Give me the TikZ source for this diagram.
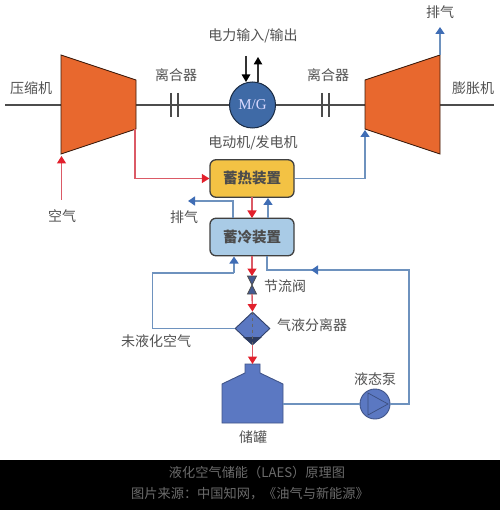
\documentclass[tikz,border=0pt]{standalone}
\usepackage{fontspec}
\setmainfont{Noto Sans CJK SC}
\newfontfamily\mgfont{Liberation Serif}
\usetikzlibrary{arrows.meta,shapes.geometric,calc}
\definecolor{lineblue}{HTML}{6E92BE}
\definecolor{tipblue}{HTML}{3F6DB5}
\definecolor{linered}{HTML}{DB5A66}
\definecolor{tipred}{HTML}{E2202C}
\definecolor{orangefill}{HTML}{E8682E}
\definecolor{tankblue}{HTML}{5B78C2}
\definecolor{mgblue}{HTML}{3F6AA6}
\definecolor{hotfill}{HTML}{F3C244}
\definecolor{coldfill}{HTML}{A9CBE6}
\tikzset{
  x=1pt,y=-1pt,
  lbl/.style={font=\fontsize{14}{16}\selectfont,text=black!68,inner sep=0pt},
  shaft/.style={draw=black!70,line width=1.6pt},
  clutch/.style={draw=black!70,line width=1.5pt},
  machine/.style={draw=black!75!orangefill,fill=orangefill,line width=.9pt},
  redflow/.style={draw=linered,line width=1.4pt,-{Triangle[length=7.5pt,width=9pt,color=tipred]}},
  blueflow/.style={draw=lineblue,line width=1.4pt,-{Triangle[length=7pt,width=9pt,color=tipblue]}},
  blueplain/.style={draw=lineblue,line width=1.4pt},
  blackflow/.style={draw=black!80,line width=1.1pt,-{Triangle[length=7.5pt,width=8.5pt,color=black]}},
  storebox/.style={draw=black!75,line width=1.3pt,rounded corners=6pt,minimum width=84pt,minimum height=37.5pt,inner sep=0pt,font=\fontsize{14.5}{16}\selectfont\bfseries,text=black!70},
  captext/.style={font=\fontsize{13.2}{15}\selectfont,text=black!58,inner sep=0pt},
  equip/.style={draw=tankblue!70!black,fill=tankblue,line width=.9pt},
}
\begin{document}
\begin{tikzpicture}
\useasboundingbox (0,0) rectangle (500,510);
\fill[white] (0,0) rectangle (500,510);
\fill[black] (0,460) rectangle (500,510);

% free ends and corners
\coordinate (shaftL) at (5,105);
\coordinate (shaftR) at (494,105);
\coordinate (compInL) at (61,105);
\coordinate (compOutR) at (136,105);
\coordinate (expInL) at (365,105);
\coordinate (expOutR) at (440,105);
\coordinate (compAir) at (61.5,156);
\coordinate (airStart) at (61.5,200);
\coordinate (compHot) at (135,129);
\coordinate (expFeed) at (365,130);
\coordinate (expTop) at (440,55);
\coordinate (expExh) at (440,27);

% shafts
\node[circle,draw=black!60!mgblue,fill=mgblue,minimum size=46pt,inner sep=0pt,line width=1pt,text=white!85!blue,font=\mgfont\fontsize{15}{16}\selectfont] (mg) at (252.5,105) {M/G};
\draw[shaft] (shaftL) -- (compInL);
\draw[shaft] (compOutR) -- (mg.west);
\draw[shaft] (mg.east) -- (expInL);
\draw[shaft] (expOutR) -- (shaftR);

% machines
\draw[machine] (61,55) -- (136,80) -- (136,129) -- (61,154) -- cycle;
\draw[machine] (365,80) -- (440,55) -- (440,154) -- (365,129) -- cycle;

% clutches
\foreach \x in {171,178,322,329} \draw[clutch] (\x,93) -- (\x,117);

% boxes
\node[storebox,fill=hotfill] (hot) at (252,178.5) {蓄热装置};
\node[storebox,fill=coldfill] (cold) at (252,237) {蓄冷装置};

% M/G power arrows
\coordinate (pwrInS) at (246,56);
\coordinate (pwrInE) at (246,82);
\coordinate (pwrOutS) at (258,82);
\coordinate (pwrOutE) at (258,57);
\draw[blackflow] (pwrInS) -- (pwrInE);
\draw[blackflow] (pwrOutS) -- (pwrOutE);

% air, compressor to hot store
\draw[redflow] (airStart) -- (compAir);
\draw[redflow] (compHot) |- (hot.west);
\draw[blueflow] (hot.east) -| (expFeed);
\draw[blueflow] (expTop) -- (expExh);

% between stores
\coordinate (hotA) at (252,197);
\coordinate (coldA) at (252,218);
\coordinate (coldB) at (268,218);
\coordinate (hotB) at (268,198);
\coordinate (coldC) at (233,218);
\coordinate (exh2) at (188,201);
\draw[redflow] (hotA) -- (coldA);
\draw[blueflow] (coldB) -- (hotB);
\draw[blueflow] (coldC) |- (exh2);

% valve
\coordinate (valveT) at (252,276);
\coordinate (valveB) at (252,294);
\draw[draw=black!70,fill=tankblue!75!black,line width=.8pt] (247.5,276) -- (256.5,276) -- (247.5,294) -- (256.5,294) -- cycle;
\coordinate (coldOut) at (252,256);
\draw[redflow] (coldOut) -- (valveT);

% separator
\node[diamond,draw=tankblue!55!black,fill=tankblue,minimum width=35pt,minimum height=33pt,inner sep=0pt,line width=.9pt] (sep) at (252.5,328.5) {};
\fill[tankblue!50!black] (243,337) -- (262,337) -- (252.5,345) -- cycle;
\draw[draw=black!60,dashed,line width=.7pt] (sep.north) -- (sep.south);
\draw[redflow] (valveB) -- (sep.north);

% tank
\coordinate (tankIn) at (252.5,364);
\coordinate (tankOut) at (283,404);
\draw[equip] (245,364) -- (260,364) -- (260,373) -- (283,384) -- (283,423) -- (222,423) -- (222,384) -- (245,373) -- cycle;
\draw[redflow] (sep.south) -- (tankIn);

% pump
\node[circle,equip,minimum size=30pt,inner sep=0pt] (pump) at (375,404) {};
\draw[draw=tankblue!65!black,line width=.7pt] (368,393) -- (388,404) -- (368,415) -- cycle;
\draw[blueplain] (tankOut) -- (pump.west);

% return lines
\coordinate (retA) at (409,404);
\coordinate (retB) at (409,270);
\coordinate (retC) at (267,270);
\coordinate (retD) at (267,256);
\coordinate (retArrow) at (311,270);
\draw[blueplain] (pump.east) -- (retA) -- (retB) -- (retC) -- (retD);
\draw[blueflow] (retB) -- (retArrow);
\coordinate (vapA) at (152.5,328.5);
\coordinate (vapB) at (152.5,273);
\coordinate (vapC) at (234,273);
\coordinate (vapD) at (234,256.5);
\draw[blueplain] (sep.west) -- (vapA) -- (vapB) -- (vapC);
\draw[blueflow] (vapC) -- (vapD);

% labels
\node[lbl] (tPower) at (253,36) {电力输入/输出};
\node[lbl] (tComp) at (31,88) {压缩机};
\node[lbl] (tExp) at (473,88) {膨胀机};
\node[lbl] (tCl1) at (176,75) {离合器};
\node[lbl] (tCl2) at (328,75) {离合器};
\node[lbl] (tMG) at (253,143) {电动机/发电机};
\node[lbl] (tExh1) at (440,12) {排气};
\node[lbl] (tAir) at (62,216) {空气};
\node[lbl] (tExh2) at (184,217) {排气};
\node[lbl] (tVal) at (285,286) {节流阀};
\node[lbl] (tSep) at (312,325) {气液分离器};
\node[lbl] (tVap) at (156,341) {未液化空气};
\node[lbl] (tPump) at (375,379) {液态泵};
\node[lbl] (tTank) at (253,437) {储罐};
\node[captext] (c1) at (257,472) {液化空气储能（LAES）原理图};
\node[captext] (c2) at (250,494) {图片来源：中国知网，《油气与新能源》};
\end{tikzpicture}
\end{document}
